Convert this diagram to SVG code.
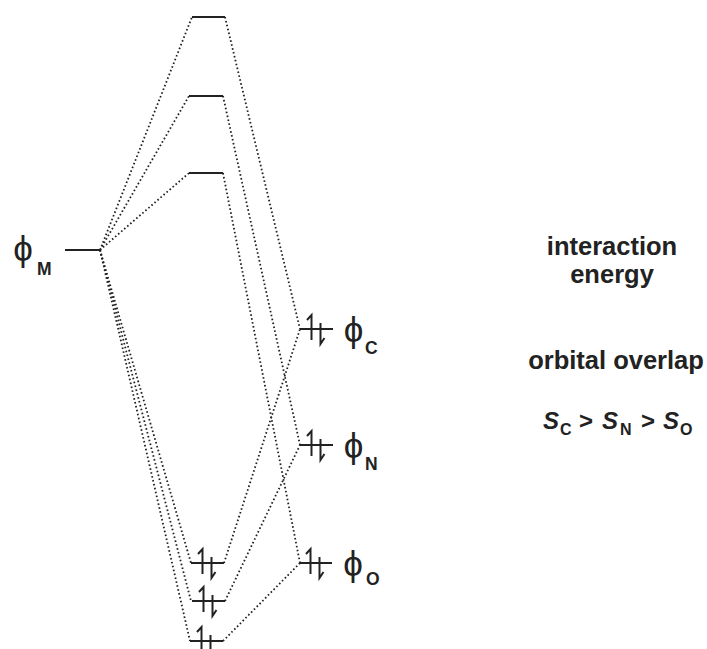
<svg xmlns="http://www.w3.org/2000/svg" xmlns:xlink="http://www.w3.org/1999/xlink" width="707" height="649" viewBox="0 0 707 649">
<style>
.lvl{stroke:#222;stroke-width:1.9;fill:none}
.dot{stroke:#222;stroke-width:1.8;stroke-dasharray:1.6 2.4;fill:none}
.arr{stroke:#222;stroke-width:2;fill:none;stroke-linecap:butt}
.phi{font-family:"Liberation Sans","DejaVu Sans",sans-serif;font-size:35px;fill:#222}
.sub{font-family:"Liberation Sans",Arial,sans-serif;font-size:17.5px;font-weight:bold;fill:#222}
.txt{font-family:"Liberation Sans",Arial,sans-serif;font-size:25.5px;font-weight:bold;fill:#222;text-anchor:middle}
.eq{font-family:"Liberation Sans",Arial,sans-serif;font-size:24px;font-weight:bold;fill:#222}
</style>
<defs>
<g id="pair">
<line class="lvl" x1="0" y1="0" x2="33" y2="0"/>
<path class="arr" d="M11.5,11 V-14 L7,-9 M20.5,-6 V15 L24.5,9"/>
</g>
</defs>
<g id="connectors">
<line class="dot" x1="100" y1="250" x2="192" y2="17"/>
<line class="dot" x1="100" y1="250" x2="189" y2="96"/>
<line class="dot" x1="100" y1="250" x2="189" y2="173"/>
<line class="dot" x1="100" y1="250" x2="191" y2="563"/>
<line class="dot" x1="100" y1="250" x2="191" y2="601"/>
<line class="dot" x1="100" y1="250" x2="190" y2="641"/>
<line class="dot" x1="225" y1="17" x2="300" y2="329"/>
<line class="dot" x1="223" y1="96" x2="300" y2="445"/>
<line class="dot" x1="223" y1="173" x2="300" y2="563"/>
<line class="dot" x1="224" y1="563" x2="300" y2="329"/>
<line class="dot" x1="225" y1="601" x2="300" y2="445"/>
<line class="dot" x1="223" y1="641" x2="300" y2="563"/>
</g>
<g id="phiM">
<line class="lvl" x1="65" y1="250" x2="100" y2="250"/>
<text class="phi" x="23" y="261" text-anchor="middle">ϕ</text>
<text class="sub" x="37" y="275">M</text>
</g>
<g id="mo1"><line class="lvl" x1="192" y1="17" x2="225" y2="17"/></g>
<g id="mo2"><line class="lvl" x1="189" y1="96" x2="223" y2="96"/></g>
<g id="mo3"><line class="lvl" x1="189" y1="173" x2="223" y2="173"/></g>
<g id="phiC">
<use xlink:href="#pair" x="300" y="329"/>
<text class="phi" x="353.5" y="342" text-anchor="middle">ϕ</text>
<text class="sub" x="365" y="354">C</text>
</g>
<g id="phiN">
<use xlink:href="#pair" x="300" y="445"/>
<text class="phi" x="353.5" y="458" text-anchor="middle">ϕ</text>
<text class="sub" x="365" y="470">N</text>
</g>
<g id="phiO">
<use xlink:href="#pair" x="299" y="563"/>
<text class="phi" x="353" y="576" text-anchor="middle">ϕ</text>
<text class="sub" x="366" y="585">O</text>
</g>
<g id="mo4"><use xlink:href="#pair" x="191" y="563"/></g>
<g id="mo5"><use xlink:href="#pair" x="192" y="601"/></g>
<g id="mo6"><use xlink:href="#pair" x="190" y="641"/></g>
<g id="legend">
<text class="txt" x="612" y="255">interaction</text>
<text class="txt" x="612" y="283">energy</text>
<text class="txt" x="616" y="369">orbital overlap</text>
<text class="eq" y="429"><tspan x="543" font-style="italic">S</tspan><tspan x="560" y="435" font-size="16">C</tspan><tspan x="579" y="429">&gt;</tspan><tspan x="602" font-style="italic">S</tspan><tspan x="620" y="435" font-size="16">N</tspan><tspan x="641" y="429">&gt;</tspan><tspan x="663" font-style="italic">S</tspan><tspan x="680" y="435" font-size="16">O</tspan></text>
</g>
</svg>
